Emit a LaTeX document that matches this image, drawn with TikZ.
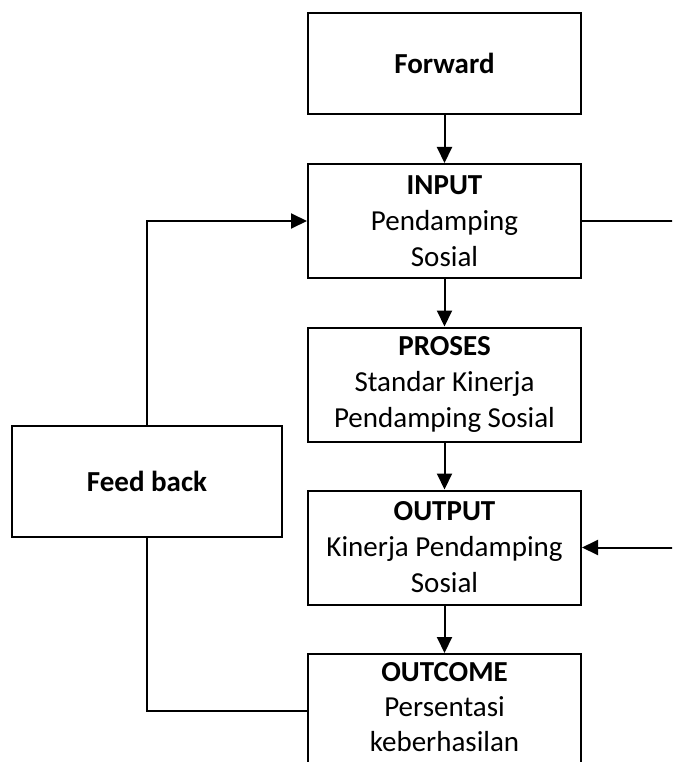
\documentclass[tikz,border=0pt]{standalone}
\usepackage{fontspec}
\setmainfont{Carlito}
\usetikzlibrary{arrows.meta}
\begin{document}
\begin{tikzpicture}[x=1pt,y=-1pt,
  box/.style={draw, line width=2pt, minimum width=273pt, minimum height=114pt,
    align=center, inner sep=0pt, font=\fontsize{29}{36}\selectfont},
  conn/.style={line width=2pt},
  arr/.style={conn, -{Triangle[length=16pt,width=15pt]}}]
\clip (0,0) rectangle (672,762);
\fill[white] (0,0) rectangle (672,762);
\node[box, minimum height=101pt] (fwd) at (444.5,63.5) {\textbf{Forward}};
\node[box] (input) at (444.5,221) {\textbf{INPUT}\\Pendamping\\Sosial};
\node[box] (proses) at (444.5,384.5) {\textbf{PROSES}\\Standar Kinerja\\Pendamping Sosial};
\node[box] (output) at (444.5,547.5) {\textbf{OUTPUT}\\Kinerja Pendamping\\Sosial};
\node[box, font=\fontsize{29}{35}\selectfont] (outcome) at (444.5,711) {\textbf{OUTCOME}\\Persentasi\\keberhasilan\rule[-8pt]{0pt}{8pt}};
\node[box, minimum width=270pt, minimum height=111pt] (fb) at (147,481.5) {\textbf{Feed back}};
\coordinate (rt) at (700,221);
\draw[arr] (fwd) -- (input);
\draw[arr] (input) -- (proses);
\draw[arr] (proses) -- (output);
\draw[arr] (output) -- (outcome);
\draw[arr] (input.east) -- (rt) |- (output.east);
\draw[arr] (fb.north) |- (input.west);
\draw[conn] (fb.south) |- (outcome.west);
\end{tikzpicture}
\end{document}
